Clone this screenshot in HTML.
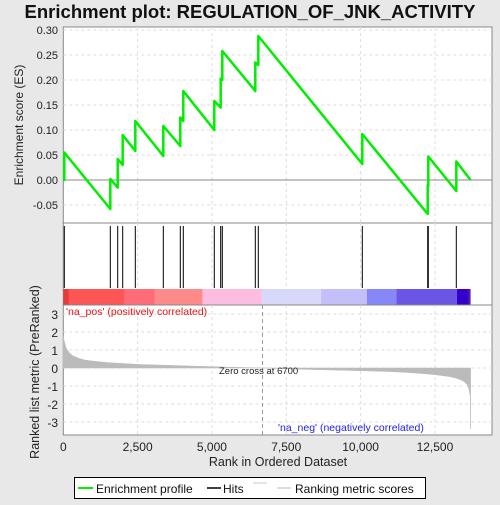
<!DOCTYPE html>
<html><head><meta charset="utf-8">
<style>
body{margin:0;background:#e8e8e8;font-family:"Liberation Sans",sans-serif;}
svg text{font-family:"Liberation Sans",sans-serif;}
</style></head>
<body>
<svg id="chart" width="500" height="500" xmlns="http://www.w3.org/2000/svg">
<rect x="0" y="0" width="500" height="500" fill="#e8e8e8"/>
<text x="250" y="18" text-anchor="middle" font-size="18.5" font-weight="bold" fill="#111">Enrichment plot: REGULATION_OF_JNK_ACTIVITY</text>
<g id="top"></g>
<g id="hits"></g>
<g id="bottom"></g>
<g id="axes"></g>
<g>
<rect x="74.5" y="477.5" width="351" height="21" fill="#fff" stroke="#000"/>
<line x1="78" y1="488" x2="93" y2="488" stroke="#00ee00" stroke-width="2"/>
<text x="96" y="493" font-size="12" fill="#111">Enrichment profile</text>
<line x1="207" y1="488" x2="221" y2="488" stroke="#000" stroke-width="1.5"/>
<text x="223" y="493" font-size="12" fill="#111">Hits</text>
<line x1="253" y1="483" x2="267" y2="483" stroke="#ccc"/>
<line x1="277" y1="488" x2="291" y2="488" stroke="#bbb"/>
<text x="295" y="493" font-size="12" fill="#111">Ranking metric scores</text>
</g>
</svg>
<script>
const hitRanks=[34,1581,1830,1998,2422,3364,3935,4036,5079,5294,5348,6458,6559,10057,12257,12277,13219];
const esBefore=[0,-0.058,-0.015,0.030,0.058,0.048,0.068,0.118,0.100,0.145,0.200,0.178,0.230,0.032,-0.068,-0.012,-0.022];
const esAfter=[0.055,0.002,0.042,0.090,0.118,0.108,0.125,0.178,0.158,0.203,0.258,0.235,0.288,0.092,-0.010,0.047,0.037];
const totalRanks=13700;
const metricRanks=[0,30,100,200,300,500,700,1000,1500,2000,2500,3500,4500,5500,6700,8000,9000,10000,11000,11500,12000,12500,13000,13200,13400,13500,13600,13650,13690,13700];
const metricVals=[1.8,1.5,1.1,0.85,0.7,0.55,0.45,0.38,0.3,0.25,0.2,0.15,0.1,0.05,0,-0.07,-0.11,-0.15,-0.2,-0.24,-0.3,-0.37,-0.48,-0.56,-0.68,-0.78,-0.95,-1.2,-1.6,-3.4];
const esTicks=[-0.05,0,0.05,0.10,0.15,0.20,0.25,0.30];
const esTickLabels=["-0.05","0.00","0.05","0.10","0.15","0.20","0.25","0.30"];
const metricTicks=[-3,-2,-1,0,1,2,3];
const xTicks=[0,2500,5000,7500,10000,12500];
const xTickLabels=["0","2,500","5,000","7,500","10,000","12,500"];
const zeroCross=6700;
const NS="http://www.w3.org/2000/svg";
const L=63.3,R=492;
const xS=r=>L+r*0.02973;
const yES=v=>180-v*500;
const yM=v=>368-v*18;
function mk(parent,tag,attrs){const e=document.createElementNS(NS,tag);for(const k in attrs)e.setAttribute(k,attrs[k]);document.getElementById(parent).appendChild(e);return e;}
let p=mk('top','rect',{x:L,y:27,width:R-L,height:196,fill:'#fff',stroke:'#888'});


p=mk('hits','rect',{x:L,y:223,width:R-L,height:82,fill:'#fff',stroke:'#888'});


p=mk('bottom','rect',{x:L,y:305,width:R-L,height:130,fill:'#fff',stroke:'#888'});


xTicks.forEach((t,i)=>{if(i===0)return;
 let g=mk('top','line',{x1:xS(t),x2:xS(t),y1:27,y2:223,stroke:'#ddd','stroke-dasharray':'3,3'});
 
 
 g=mk('hits','line',{x1:xS(t),x2:xS(t),y1:223,y2:289,stroke:'#ddd','stroke-dasharray':'3,3'});
 
 
 g=mk('bottom','line',{x1:xS(t),x2:xS(t),y1:305,y2:435,stroke:'#ddd','stroke-dasharray':'3,3'});
 
 
});
esTicks.forEach((t,i)=>{
 let g=mk('top','line',{x1:L,x2:R,y1:yES(t),y2:yES(t),stroke:t===0?'#888':'#ddd','stroke-dasharray':t===0?'':'3,3'});
 
 
 let tx=mk('axes','text',{x:58,y:yES(t)+4,'text-anchor':'end','font-size':11,fill:'#222'});
 tx.textContent=esTickLabels[i];
 
 
});
metricTicks.forEach(t=>{
 let g=mk('bottom','line',{x1:L,x2:R,y1:yM(t),y2:yM(t),stroke:'#ddd','stroke-dasharray':'3,3'});
 
 
 let tx=mk('axes','text',{x:58,y:yM(t)+5,'text-anchor':'end','font-size':12,fill:'#222'});
 tx.textContent=String(t);
 
 
});
xTicks.forEach((t,i)=>{
 let tx=mk('axes','text',{x:xS(t),y:451,'text-anchor':'middle','font-size':12,fill:'#222'});
 tx.textContent=xTickLabels[i];
 
 
});
const segB=[0,190,2070,3080,4680,6680,8670,10210,11200,13240,13630,13700];
const segC=['#e83a3c','#fe5555','#fe6c78','#fe8a8a','#fdbde0','#d8d8fa','#c3bff8','#8787f8','#6a55e6','#3300cc','#5a1bb0'];
segC.forEach((c,i)=>{
 let r=mk('hits','rect',{x:xS(segB[i]),y:289,width:xS(segB[i+1])-xS(segB[i]),height:16,fill:c});
 
 
});
hitRanks.forEach(h=>{
 let l=mk('hits','line',{x1:xS(h),x2:xS(h),y1:226,y2:288,stroke:'#000','stroke-width':1});
 
 
});
let pts=[[0,0]];
hitRanks.forEach((h,i)=>{pts.push([h,esBefore[i]]);pts.push([h,esAfter[i]]);});
pts.push([totalRanks,0]);
let es=mk('top','polyline',{points:pts.map(q=>xS(q[0])+','+yES(q[1])).join(' '),fill:'none',stroke:'#00ee00','stroke-width':2.5,'stroke-linejoin':'round'});


let d='M'+xS(0)+','+yM(0);
metricRanks.forEach((r,i)=>{d+=' L'+xS(r)+','+yM(metricVals[i]);});
d+=' L'+xS(totalRanks)+','+yM(0)+' Z';
let ar=mk('bottom','path',{d:d,fill:'#bbb',stroke:'#bbb','stroke-width':0.5});


let zc=mk('bottom','line',{x1:xS(zeroCross),x2:xS(zeroCross),y1:305,y2:435,stroke:'#999','stroke-dasharray':'4,3'});


let zt=mk('bottom','text',{x:219,y:374,'font-size':9.5,fill:'#222'});
zt.textContent='Zero cross at '+zeroCross;


let pt=mk('bottom','text',{x:66,y:315,'font-size':10.5,fill:'#ee1111'});
pt.textContent="'na_pos' (positively correlated)";


let nt=mk('bottom','text',{x:278,y:431,'font-size':10.5,fill:'#2222ee'});
nt.textContent="'na_neg' (negatively correlated)";


let yt=mk('axes','text',{x:0,y:0,'text-anchor':'middle','font-size':12,fill:'#222',transform:'translate(23,125) rotate(-90)'});
yt.textContent='Enrichment score (ES)';


let yt2=mk('axes','text',{x:0,y:0,'text-anchor':'middle','font-size':12.5,fill:'#222',transform:'translate(39,372) rotate(-90)'});
yt2.textContent='Ranked list metric (PreRanked)';


let xt=mk('axes','text',{x:278,y:466,'text-anchor':'middle','font-size':12.5,fill:'#222'});
xt.textContent='Rank in Ordered Dataset';


</script>
</body></html>
